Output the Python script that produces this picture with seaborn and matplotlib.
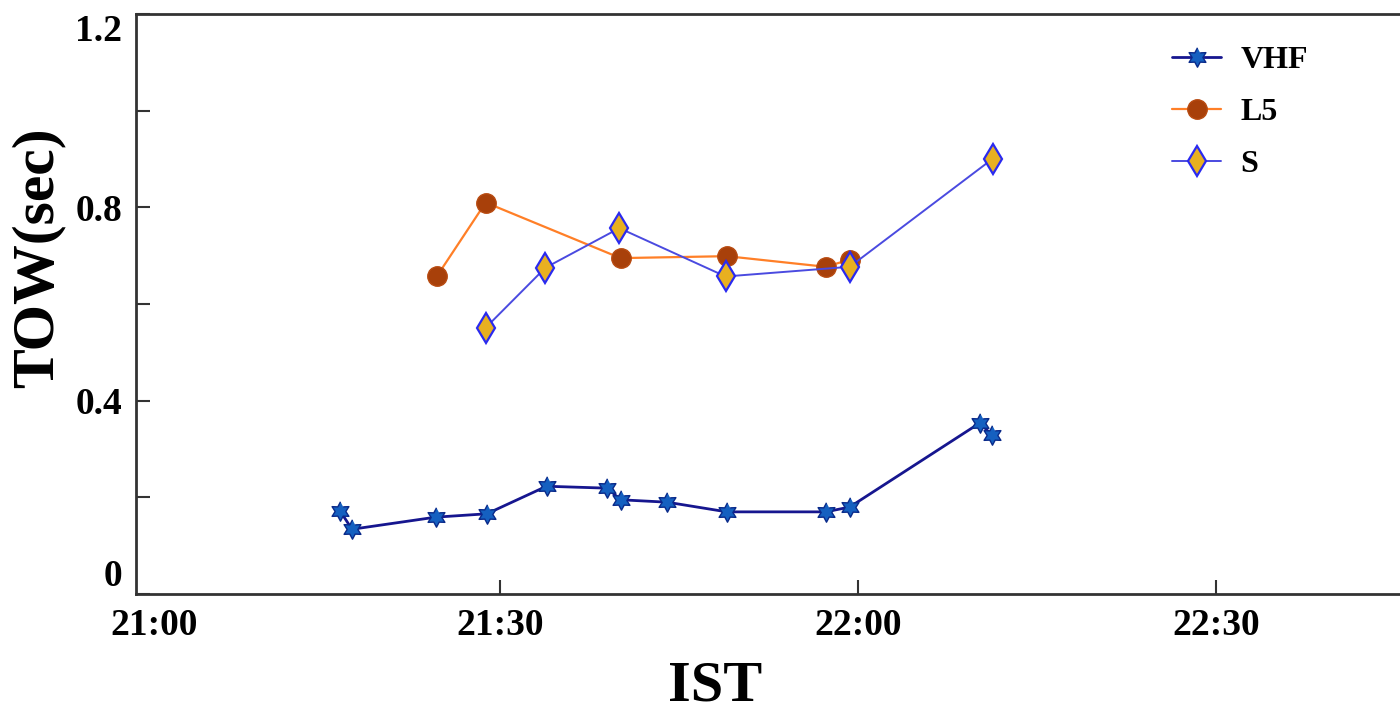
import numpy as np
import pandas as pd
import matplotlib
matplotlib.use("Agg")
import matplotlib.pyplot as plt
import matplotlib.transforms as mtransforms
import seaborn as sns

# ---- data (minutes after 21:00, TOW in seconds) ----
vhf_t = [16.6, 17.6, 24.6, 28.9, 33.9, 39.0, 40.1, 44.0, 49.0, 57.3, 59.3, 70.2, 71.2]
vhf_v = [0.172, 0.134, 0.159, 0.166, 0.223, 0.219, 0.195, 0.190, 0.170, 0.170, 0.180, 0.354, 0.329]

l5_t = [24.7, 28.8, 40.1, 49.0, 57.3, 59.3]
l5_v = [0.657, 0.810, 0.695, 0.699, 0.677, 0.692]

s_t = [28.8, 33.8, 40.0, 48.9, 59.3, 71.3]
s_v = [0.551, 0.675, 0.757, 0.657, 0.677, 0.901]

xtick_pos = [0, 30, 60, 90]
xtick_labels = ["21:00", "21:30", "22:00", "22:30"]
ytick_pos = [0, 0.4, 0.8, 1.2]
ytick_labels = ["0", "0.4", "0.8", "1.2"]

sns.set_style("white")
plt.rcParams['font.family'] = ['Liberation Serif', 'DejaVu Serif']
plt.rcParams['font.weight'] = 'bold'
plt.rcParams['text.color'] = 'black'
plt.rcParams['axes.labelcolor'] = 'black'
plt.rcParams['xtick.color'] = 'black'
plt.rcParams['ytick.color'] = 'black'

fig = plt.figure(figsize=(14, 7.12), dpi=100)
ax = fig.add_axes([0.0971, 0.1657, 0.9029, 0.8146])

# six-pointed star marker
ang = np.deg2rad(np.arange(12) * 30 + 90)
rad = np.where(np.arange(12) % 2 == 0, 1.0, 0.55)
hexstar = list(zip(rad * np.cos(ang), rad * np.sin(ang)))

df_v = pd.DataFrame({"t": vhf_t, "v": vhf_v})
df_l = pd.DataFrame({"t": l5_t, "v": l5_v})
df_s = pd.DataFrame({"t": s_t, "v": s_v})

sns.lineplot(data=df_v, x="t", y="v", ax=ax, sort=False, color="#16168f", lw=2,
             marker=hexstar, markersize=14, markerfacecolor="#1560c0",
             markeredgecolor="#0a2a8a", markeredgewidth=1, label="VHF")
sns.lineplot(data=df_l, x="t", y="v", ax=ax, sort=False, color="#ff7f27", lw=1.6,
             marker="o", markersize=14, markerfacecolor="#a8400a",
             markeredgecolor="#b84a10", markeredgewidth=1, label="L5")
sns.lineplot(data=df_s, x="t", y="v", ax=ax, sort=False, color="#4a4ae0", lw=1.4,
             marker="d", markersize=15, markerfacecolor="#e8b020",
             markeredgecolor="#2a2af0", markeredgewidth=1.6, label="S")

ax.set_xlim(-0.5, 105.4)
ax.set_ylim(0, 1.2)
ax.set_xticks(xtick_pos)
ax.set_xticklabels(xtick_labels)
ax.set_yticks(ytick_pos)
ax.set_yticklabels(ytick_labels)
ax.set_yticks([0.2, 0.6, 1.0], minor=True)
ax.tick_params(axis="both", which="both", direction="in", length=10, width=1.5,
               color="#333333", labelsize=27, bottom=True, left=True,
               top=False, right=False)
ax.tick_params(axis="x", pad=10)
ax.tick_params(axis="y", pad=10)
for lab in ax.get_xticklabels() + ax.get_yticklabels():
    lab.set_fontweight("bold")
    lab.set_color("black")
ylabs = ax.get_yticklabels()
ylabs[0].set_va("bottom")
ylabs[-1].set_va("top")
xl0 = ax.get_xticklabels()[0]
xl0.set_transform(xl0.get_transform() +
                  mtransforms.ScaledTranslation(12 / 100, 0, fig.dpi_scale_trans))
ax.xaxis.get_major_ticks()[0].tick1line.set_visible(False)

ax.set_xlabel("IST", fontsize=42, fontweight="bold")
ax.xaxis.set_label_coords(0.458, -0.115)
ax.set_ylabel("TOW(sec)", fontsize=43, fontweight="bold")
ax.yaxis.set_label_coords(-0.056, 0.58)

for side in ["left", "bottom", "top"]:
    ax.spines[side].set_color("#333333")
    ax.spines[side].set_linewidth(2)
ax.spines["right"].set_visible(False)

leg = ax.legend(loc="upper left", bbox_to_anchor=(0.8196, 0.946), frameon=False,
                prop={"size": 23, "weight": "bold"}, handlelength=1.55,
                labelspacing=0.72, handletextpad=0.6, borderpad=0,
                borderaxespad=0)

fig.savefig("out.png", dpi=100)
